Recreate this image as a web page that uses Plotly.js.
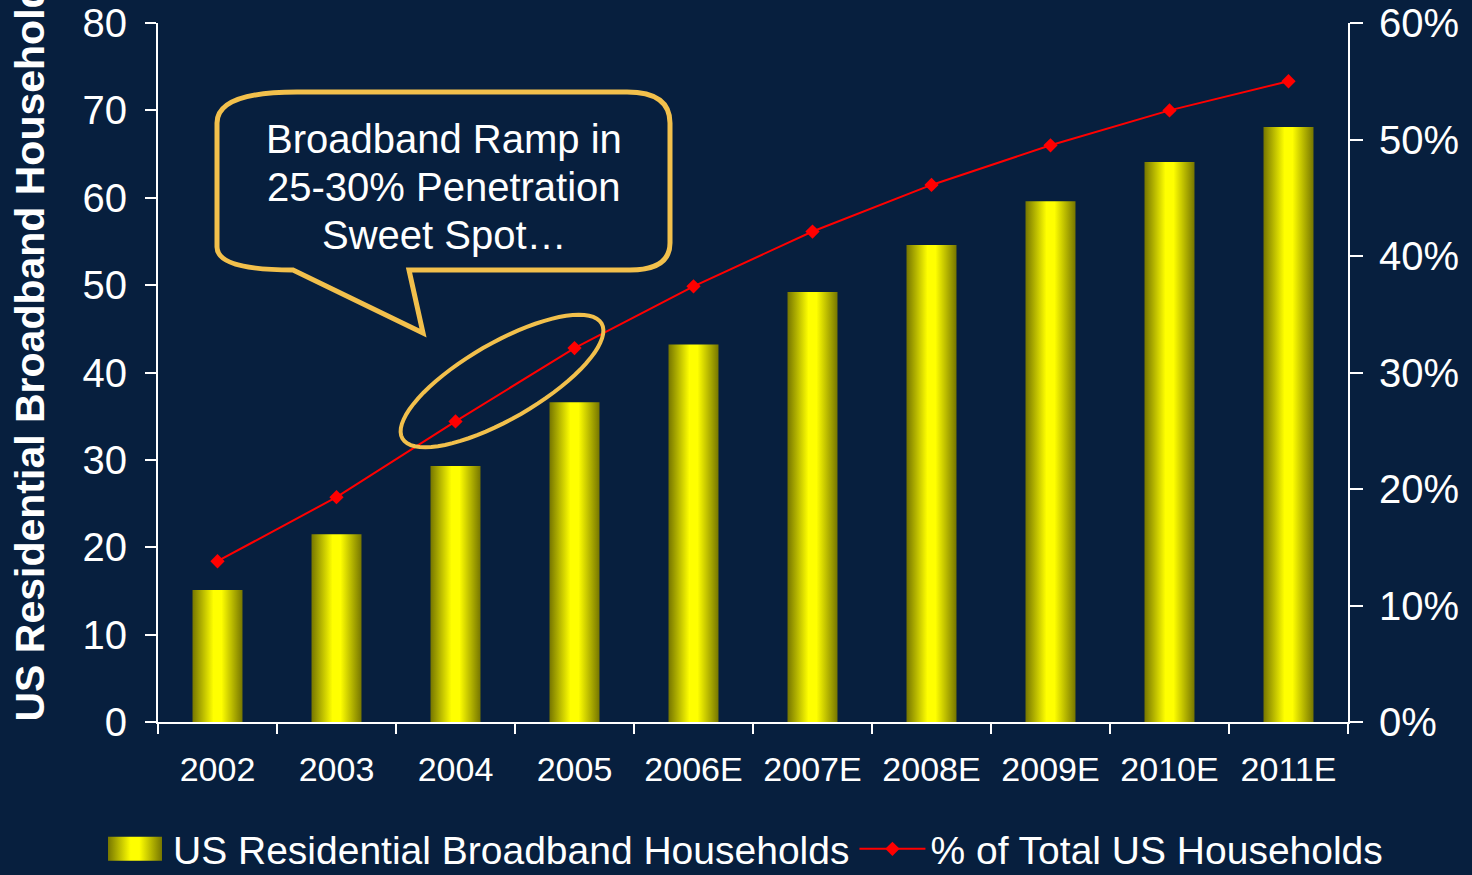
<!DOCTYPE html>
<html>
<head>
<meta charset="utf-8">
<script src="https://cdn.plot.ly/plotly-3.0.1.min.js"></script>
<style>
  html, body { margin: 0; padding: 0; background: #071f3e; }
  #chart { width: 1472px; height: 875px; }
</style>
</head>
<body>
<div id="chart"></div>
<script>
// ---- Data ----
const years = ['2002', '2003', '2004', '2005', '2006E', '2007E', '2008E', '2009E', '2010E', '2011E'];
const households = [15.1, 21.5, 29.3, 36.6, 43.2, 49.2, 54.6, 59.6, 64.1, 68.1];
const pctTotal = [13.8, 19.3, 25.8, 32.1, 37.4, 42.1, 46.1, 49.5, 52.5, 55.0];
const barName = 'US Residential Broadband Households';
const lineName = '% of Total US Households';
const yTitle = 'US Residential Broadband Households';
const calloutLines = ['Broadband Ramp in', '25-30% Penetration', 'Sweet Spot…'];

// ---- Style / geometry ----
const BG = '#071f3e';
const GOLD = '#f2c04c';
const FONT = 'Liberation Sans, Arial, sans-serif';
const W = 1472, H = 875;
const M = {l: 158, r: 124, t: 23, b: 153, autoexpand: false};
const PW = W - M.l - M.r, PH = H - M.t - M.b;
function px(x) { return +((x - M.l) / PW).toFixed(5); }
function py(y) { return +((M.t + PH - y) / PH).toFixed(5); }

// callout bubble path (pixel-space outline converted to paper coords)
function bubblePath() {
  const L = 217, R = 670, T = 92, B = 270;
  const p = (x, y) => px(x) + ',' + py(y);
  return 'M' + p(297, T) + ' L' + p(627, T) + ' Q' + p(R, T) + ' ' + p(R, 123) +
    ' L' + p(R, 243) + ' Q' + p(R, B) + ' ' + p(630, B) +
    ' L' + p(409, B) + ' L' + p(423, 333) + ' L' + p(293, B) +
    ' Q' + p(L, B) + ' ' + p(L, 247) + ' L' + p(L, 123) +
    ' Q' + p(L, T) + ' ' + p(297, T) + ' Z';
}
function ellipsePath(cx, cy, a, b, deg) {
  const th = deg * Math.PI / 180;
  let d = '';
  for (let i = 0; i <= 72; i++) {
    const t = i / 72 * 2 * Math.PI;
    const x = cx + a * Math.cos(t) * Math.cos(th) - b * Math.sin(t) * Math.sin(th);
    const y = cy - (a * Math.cos(t) * Math.sin(th) + b * Math.sin(t) * Math.cos(th));
    d += (i === 0 ? 'M' : ' L') + px(x) + ',' + py(y);
  }
  return d + ' Z';
}

const data = [
  {
    type: 'bar', x: years, y: households, name: barName,
    width: 0.42,
    marker: {color: '#ffff00', line: {width: 0}},
    hoverinfo: 'skip'
  },
  {
    type: 'scatter', mode: 'lines+markers', x: years, y: pctTotal, name: lineName,
    yaxis: 'y2',
    line: {color: '#ff0000', width: 2},
    marker: {symbol: 'diamond', size: 11, color: '#ff0000'},
    hoverinfo: 'skip'
  }
];

const axisCommon = {
  showgrid: false, zeroline: false,
  showline: true, linecolor: '#ffffff', linewidth: 2,
  ticks: 'outside', tickcolor: '#ffffff', tickwidth: 2,
  tickfont: {family: FONT, size: 40, color: '#ffffff'}
};

const layout = {
  width: W, height: H,
  paper_bgcolor: BG, plot_bgcolor: BG,
  margin: M,
  font: {family: FONT, color: '#ffffff'},
  showlegend: true,
  legend: {
    orientation: 'h', xref: 'paper', yref: 'paper',
    x: px(97), xanchor: 'left', y: py(849), yanchor: 'middle',
    font: {family: FONT, size: 39, color: '#ffffff'},
    itemwidth: 66, bgcolor: 'rgba(0,0,0,0)', borderwidth: 0
  },
  xaxis: Object.assign({}, axisCommon, {
    type: 'category', range: [-0.5, 9.5], tickson: 'boundaries', ticklen: 10,
    tickfont: {family: FONT, size: 34, color: '#ffffff'},
    ticklabelstandoff: 16
  }),
  yaxis: Object.assign({}, axisCommon, {
    range: [0, 80], dtick: 10, ticklen: 11, ticklabelstandoff: 10
  }),
  yaxis2: Object.assign({}, axisCommon, {
    overlaying: 'y', side: 'right', anchor: 'x',
    range: [0, 60], dtick: 10, ticksuffix: '%', ticklen: 13, ticklabelstandoff: 8
  }),
  // inner halves of crossing tick marks
  xaxis2: {overlaying: 'x', anchor: 'y', side: 'bottom', range: [-0.5, 9.5], tick0: -0.5, dtick: 1,
    ticks: 'inside', ticklen: 10, tickwidth: 2, tickcolor: '#ffffff',
    showticklabels: false, showline: false, showgrid: false, zeroline: false},
  yaxis3: {overlaying: 'y', anchor: 'x', side: 'left', range: [0, 80], dtick: 10,
    ticks: 'inside', ticklen: 13, tickwidth: 2, tickcolor: '#ffffff',
    showticklabels: false, showline: false, showgrid: false, zeroline: false},
  yaxis4: {overlaying: 'y', anchor: 'x', side: 'right', range: [0, 60], dtick: 10,
    ticks: 'inside', ticklen: 13, tickwidth: 2, tickcolor: '#ffffff',
    showticklabels: false, showline: false, showgrid: false, zeroline: false},
  shapes: [
    {type: 'path', xref: 'paper', yref: 'paper', path: bubblePath(),
      line: {color: GOLD, width: 5}, fillcolor: 'rgba(0,0,0,0)'},
    {type: 'path', xref: 'paper', yref: 'paper', path: ellipsePath(502, 381, 115, 38, 30),
      line: {color: GOLD, width: 4}, fillcolor: 'rgba(0,0,0,0)'}
  ],
  annotations: calloutLines.map(function (t, i) {
    return {text: t, xref: 'paper', yref: 'paper', x: px(444), y: py(139 + 48 * i),
      xanchor: 'center', yanchor: 'middle', showarrow: false, align: 'center',
      font: {family: FONT, size: 40, color: '#ffffff'}};
  }).concat([
    {text: '<b>' + yTitle + '</b>', xref: 'paper', yref: 'paper', x: px(30), y: py(724),
      xanchor: 'center', yanchor: 'bottom', textangle: -90, showarrow: false,
      font: {family: FONT, size: 41, color: '#ffffff'}}
  ])
};

const gd = document.getElementById('chart');
function applyGradient() {
  const ns = 'http://www.w3.org/2000/svg';
  const svg = gd.querySelector('.main-svg');
  if (!svg) return;
  let defs = svg.querySelector('defs');
  if (!defs) { defs = document.createElementNS(ns, 'defs'); svg.insertBefore(defs, svg.firstChild); }
  if (!document.getElementById('barGrad')) {
    const grad = document.createElementNS(ns, 'linearGradient');
    grad.setAttribute('id', 'barGrad');
    grad.setAttribute('x1', '0'); grad.setAttribute('y1', '0');
    grad.setAttribute('x2', '1'); grad.setAttribute('y2', '0');
    [[0, '#767600'], [0.42, '#ffff00'], [0.58, '#ffff00'], [1, '#767600']].forEach(function (s) {
      const st = document.createElementNS(ns, 'stop');
      st.setAttribute('offset', s[0]);
      st.setAttribute('stop-color', s[1]);
      grad.appendChild(st);
    });
    defs.appendChild(grad);
  }
  gd.querySelectorAll('.barlayer .point path').forEach(function (p) { p.style.fill = 'url(#barGrad)'; });
  gd.querySelectorAll('path.legendbar, .legendpoints path.legendundefined').forEach(function (p) {
    p.setAttribute('d', 'M27,12H-27V-12H27Z');
    p.style.fill = 'url(#barGrad)';
  });
  const traces = gd.querySelectorAll('g.traces');
  if (traces.length) {
    const bp = traces[0].querySelectorAll('.legendpoints path');
    bp.forEach(function (p) {
      p.setAttribute('d', 'M27,12H-27V-12H27Z');
      p.style.fill = 'url(#barGrad)';
    });
  }
}
Plotly.newPlot(gd, data, layout, {staticPlot: true, displayModeBar: false}).then(function () {
  applyGradient();
  gd.on('plotly_afterplot', applyGradient);
  setTimeout(applyGradient, 50);
});
</script>
</body>
</html>
